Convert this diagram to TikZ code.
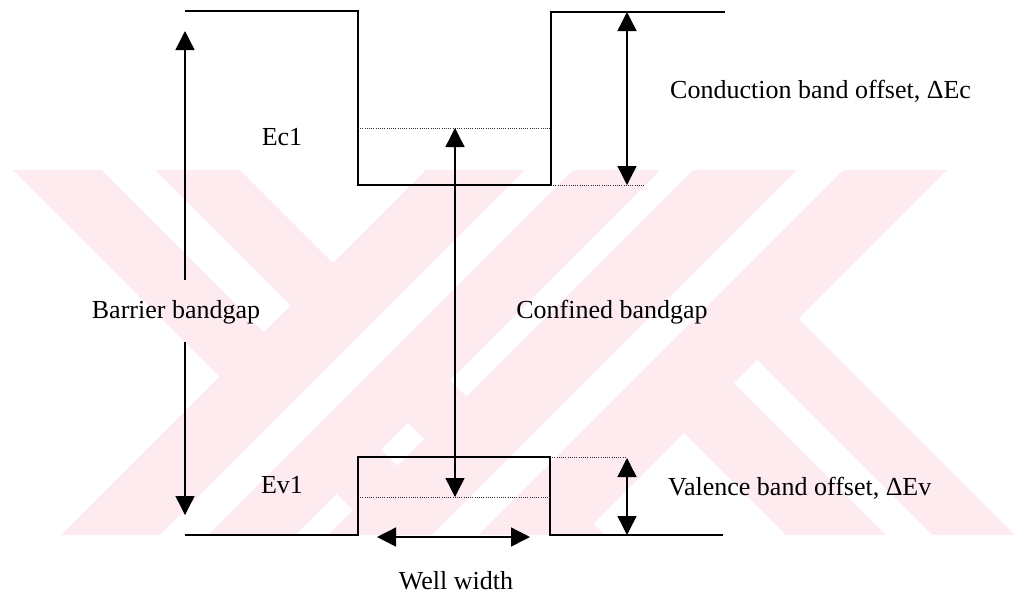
\documentclass[tikz,border=0pt]{standalone}
\usepackage{fontspec}
\setmainfont{Liberation Serif}
\usetikzlibrary{arrows.meta}
\definecolor{wm}{RGB}{253,235,239}
\begin{document}
\begin{tikzpicture}[x=1pt,y=-1pt,
  band/.style={line width=1.8pt, line join=miter},
  lvl/.style={line width=0.9pt, dash pattern=on 1pt off 1.2pt, black!80},
  tip/.style={Triangle[length=19pt,width=19pt]},
  dimarr/.style={line width=1.4pt, {Triangle[length=19pt,width=19pt]}-{Triangle[length=19pt,width=19pt]}},
  halfarr/.style={line width=1.4pt, -{Triangle[length=19pt,width=19pt]}},
  lbl/.style={font=\fontsize{26pt}{30pt}\selectfont, inner sep=0pt, anchor=base},
]
\useasboundingbox (0,0) rectangle (1014,595);
% faint watermark
\begin{scope}
\clip (0,170) rectangle (1014,534);
\fill[wm] (13,170) -- (240,170) -- (605,535) -- (378,535) -- cycle;
\fill[white] (102,170) -- (155,170) -- (520,535) -- (467,535) -- cycle;
\fill[wm] (561,310) -- (790,310) -- (1015,535) -- (786,535) -- cycle;
\fill[white] (661,310) -- (707,310) -- (932,535) -- (886,535) -- cycle;
\fill[wm] (426,170) -- (660,170) -- (295,535) -- (61,535) -- cycle;
\fill[white] (525,170) -- (573,170) -- (208,535) -- (160,535) -- cycle;
\fill[wm] (693,170) -- (947,170) -- (582,535) -- (328,535) -- cycle;
\fill[white] (797,170) -- (843,170) -- (478,535) -- (432,535) -- cycle;
\end{scope}
% conduction band
\coordinate (cbL) at (185,11);
\coordinate (cwTL) at (358,11);
\coordinate (cwBL) at (358,185);
\coordinate (cwBR) at (551,185);
\coordinate (cwTR) at (551,12);
\coordinate (cbR) at (725,12);
\draw[band] (cbL) -- (cwTL) -- (cwBL) -- (cwBR) -- (cwTR) -- (cbR);
% valence band
\coordinate (vbL) at (185,535);
\coordinate (vwBL) at (358,535);
\coordinate (vwTL) at (358,457);
\coordinate (vwTR) at (550,457);
\coordinate (vwBR) at (550,535);
\coordinate (vbR) at (723,535);
\draw[band] (vbL) -- (vwBL) -- (vwTL) -- (vwTR) -- (vwBR) -- (vbR);
% dotted levels
\coordinate (ec1L) at (358,128);
\coordinate (ec1R) at (551,128);
\coordinate (ecx) at (645,185);
\coordinate (ev1L) at (358,497);
\coordinate (ev1R) at (550,497);
\coordinate (evx) at (625,457);
\draw[lvl] (ec1L) -- (ec1R);
\draw[lvl] (cwBR) -- (ecx);
\draw[lvl] (ev1L) -- (ev1R);
\draw[lvl] (vwTR) -- (evx);
% labels
\node[lbl] (ec1) at (282,145) {Ec1};
\node[lbl] (ev1) at (282,493) {Ev1};
\node[lbl] (bb) at (176,318) {Barrier bandgap};
\node[lbl] (cbg) at (612,318) {Confined bandgap};
\node[lbl, anchor=base west] (cbo) at (670,98) {Conduction band offset, ΔEc};
\node[lbl, anchor=base west] (vbo) at (668,495) {Valence band offset, ΔEv};
\node[lbl] (ww) at (456,589) {Well width};
% arrows
\coordinate (bt) at (185,31);
\coordinate (bbot) at (185,515);
\draw[halfarr] ([yshift=20pt]bb.north -| bt) -- (bt);
\draw[halfarr] ([yshift=-18pt]bb.south -| bbot) -- (bbot);
\coordinate (cgT) at (455,128);
\coordinate (cgB) at (455,497);
\draw[dimarr] (cgT) -- (cgB);
\coordinate (coT) at (627,12);
\coordinate (coB) at (627,185);
\draw[dimarr] (coT) -- (coB);
\coordinate (voT) at (627,458);
\coordinate (voB) at (627,535);
\draw[dimarr] (voT) -- (voB);
\coordinate (wwL) at (377,537);
\coordinate (wwR) at (530,537);
\draw[dimarr] (wwL) -- (wwR);
\end{tikzpicture}
\end{document}
